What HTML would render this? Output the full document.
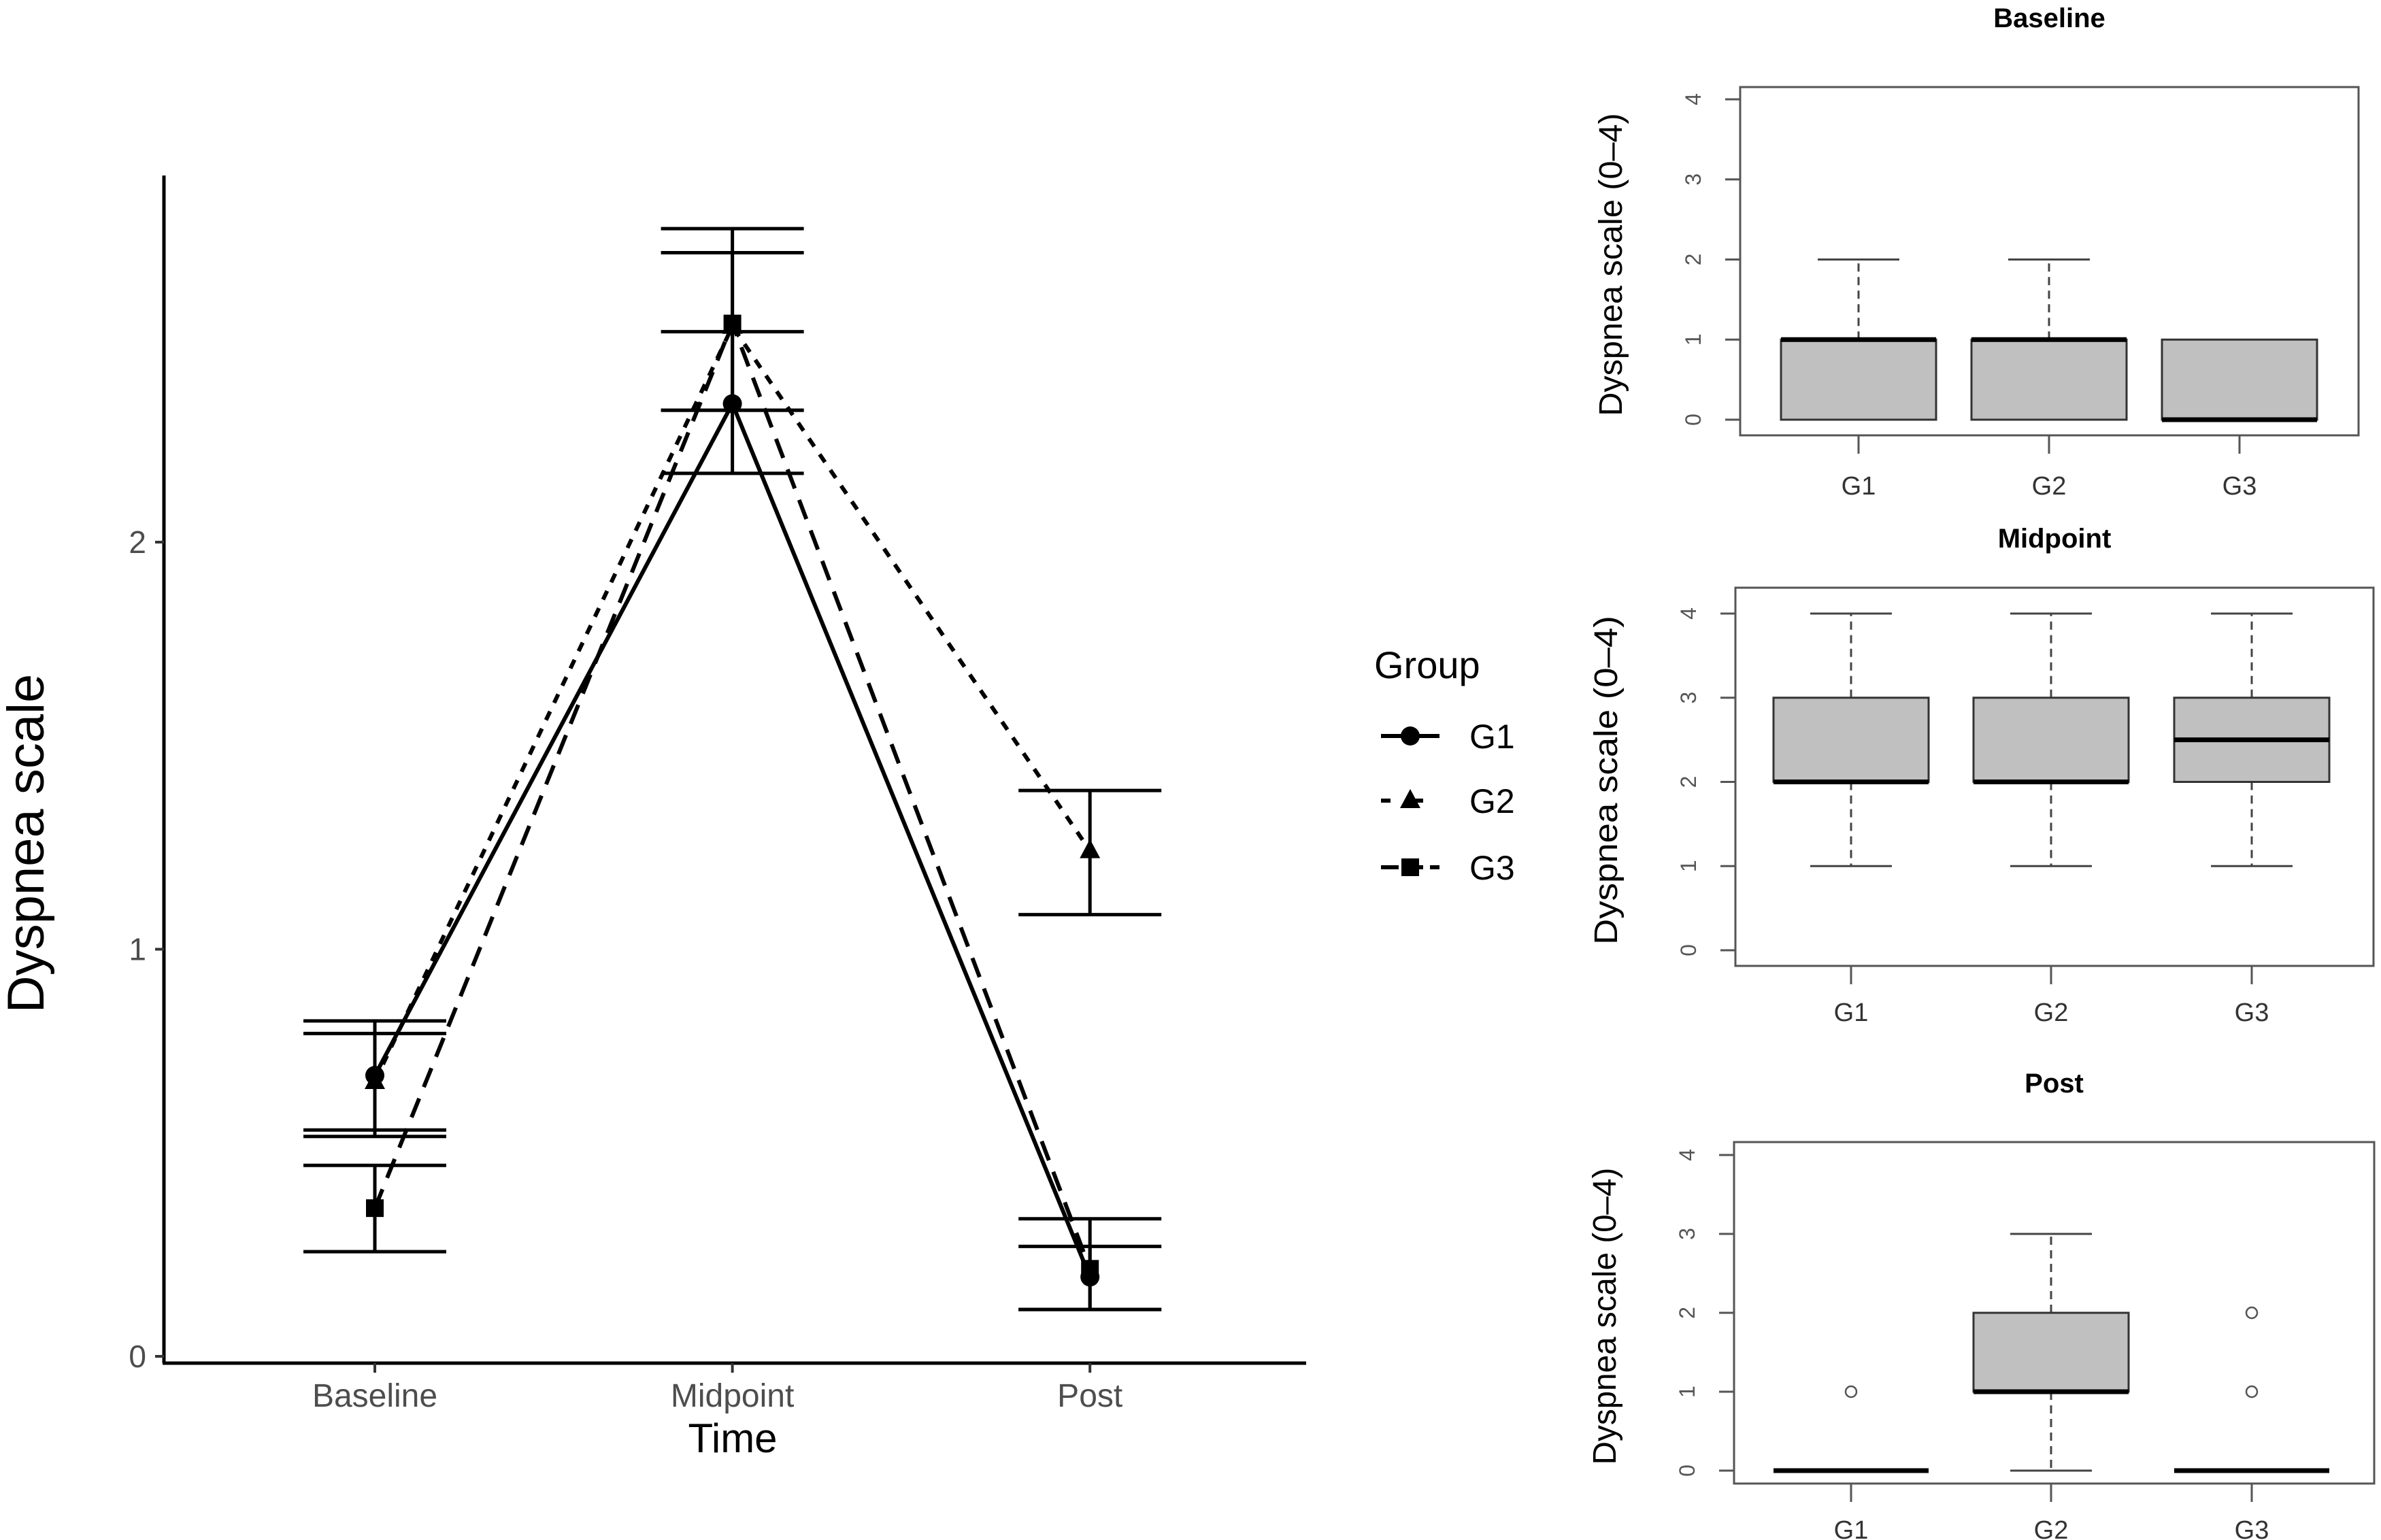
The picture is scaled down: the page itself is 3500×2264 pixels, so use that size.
<!DOCTYPE html>
<html><head><meta charset="utf-8"><style>
html,body{margin:0;padding:0;background:#fff;}
svg{display:block;font-family:"Liberation Sans",Arial,sans-serif;}
</style></head><body>
<svg id="fig" width="3500" height="2264" viewBox="0 0 3500 2264">
<g id="main"></g>
<g id="legend"></g>
<g id="boxes"></g>
</svg>
<script>
const NS="http://www.w3.org/2000/svg";
// ---- line chart data ----
const timeCats=["Baseline","Midpoint","Post"];
const groups=["G1","G2","G3"];
const g1Mean=[0.69,2.34,0.195];
const g1Lo=[0.556,2.169,0.115];
const g1Hi=[0.824,2.517,0.27];
const g2Mean=[0.675,2.53,1.242];
const g2Lo=[0.54,2.324,1.085];
const g2Hi=[0.793,2.77,1.39];
const g3Mean=[0.364,2.537,0.215];
const g3Lo=[0.257,2.324,0.115];
const g3Hi=[0.469,2.711,0.338];
const yTicks=[0,1,2];
// ---- boxplot data (per panel: lo, q1, med, q3, hi) ----
const panelTitles=["Baseline","Midpoint","Post"];
const boxLo=[[0,0,0],[1,1,1],[0,0,0]];
const boxQ1=[[0,0,0],[2,2,2],[0,1,0]];
const boxMed=[[1,1,0],[2,2,2.5],[0,1,0]];
const boxQ3=[[1,1,1],[3,3,3],[0,2,0]];
const boxHi=[[2,2,1],[4,4,4],[0,3,0]];
const outliers=[[[],[],[]],[[],[],[]],[[1],[],[1,2]]];
const boxTicks=[0,1,2,3,4];

function el(tag,attrs,parent){const e=document.createElementNS(NS,tag);for(const k in attrs)e.setAttribute(k,attrs[k]);parent.appendChild(e);return e;}

// ---- main chart ----
const main=document.getElementById('main');
const xPos=i=>551+i*525.6;
const yPos=v=>1994-v*598.5;
let ax=el('line',{x1:241,y1:258,x2:241,y2:2004,stroke:'#000','stroke-width':5},main);


ax=el('line',{x1:239,y1:2004,x2:1920,y2:2004,stroke:'#000','stroke-width':5},main);


yTicks.forEach(t=>{
  const tk=el('line',{x1:228,y1:yPos(t),x2:241,y2:yPos(t),stroke:'#333','stroke-width':4},main);
  
  
  const tl=el('text',{x:215,y:yPos(t)+16,'text-anchor':'end','font-size':46,fill:'#4d4d4d'},main);
  tl.textContent=t;
  
  
});
timeCats.forEach((c,i)=>{
  const tk=el('line',{x1:xPos(i),y1:2004,x2:xPos(i),y2:2018,stroke:'#333','stroke-width':4},main);
  
  
  const tl=el('text',{x:xPos(i),y:2068,'text-anchor':'middle','font-size':48,fill:'#4d4d4d'},main);
  tl.textContent=c;
  
  
});
let t=el('text',{x:1077,y:2135,'text-anchor':'middle','font-size':60,fill:'#000'},main);
t.textContent='Time';


t=el('text',{x:0,y:0,'text-anchor':'middle','font-size':76,fill:'#000',transform:'translate(64,1240) rotate(-90)'},main);
t.textContent='Dyspnea scale';



const means=[g1Mean,g2Mean,g3Mean],los=[g1Lo,g2Lo,g3Lo],his=[g1Hi,g2Hi,g3Hi];
const dashes=['none','14 14','30 18'];
const cap=105;
groups.forEach((g,gi)=>{
  for(let i=0;i<timeCats.length;i++){
    const x=xPos(i);
    const v=el('line',{x1:x,y1:yPos(los[gi][i]),x2:x,y2:yPos(his[gi][i]),stroke:'#000','stroke-width':5},main);
    
    
    [los[gi][i],his[gi][i]].forEach(val=>{
      const c=el('line',{x1:x-cap,y1:yPos(val),x2:x+cap,y2:yPos(val),stroke:'#000','stroke-width':5},main);
      
      
    });
  }
});
function marker(gi,x,y,parent){
  let m;
  if(gi===0)m=el('circle',{cx:x,cy:y,r:14,fill:'#000'},parent);
  else if(gi===1)m=el('polygon',{points:`${x},${y-17} ${x-15},${y+11} ${x+15},${y+11}`,fill:'#000'},parent);
  else m=el('rect',{x:x-13,y:y-13,width:26,height:26,fill:'#000'},parent);
  return m;
}
groups.forEach((g,gi)=>{
  const pts=means[gi].map((v,i)=>xPos(i)+','+yPos(v)).join(' ');
  const pl=el('polyline',{points:pts,fill:'none',stroke:'#000','stroke-width':6,'stroke-dasharray':dashes[gi]},main);
  
  
  means[gi].forEach((v,i)=>{
    const m=marker(gi,xPos(i),yPos(v),main);
    
    
  });
});

// ---- legend ----
const leg=document.getElementById('legend');
t=el('text',{x:2020,y:997,'font-size':56,fill:'#000'},leg);
t.textContent='Group';


const legY=[1082,1177,1275];
groups.forEach((g,gi)=>{
  const k=el('line',{x1:2030,y1:legY[gi],x2:2116,y2:legY[gi],stroke:'#000','stroke-width':6,'stroke-dasharray':gi===0?'none':(gi===1?'14 34':'26 10')},leg);
  
  
  const m=marker(gi,2073,legY[gi],leg);
  
  
  const l=el('text',{x:2160,y:legY[gi]+18,'font-size':50,fill:'#000'},leg);
  l.textContent=g;
  
  
});

// ---- boxplots ----
const boxes=document.getElementById('boxes');
const panels=[
  {left:2558,right:3467,top:128,bottom:640,y0:617,y4:146,gx:[2732,3012,3292],title:27,lab:713},
  {left:2551,right:3489,top:864,bottom:1420,y0:1397,y4:902,gx:[2721,3015,3310],title:792,lab:1487},
  {left:2549,right:3490,top:1679,bottom:2181,y0:2162,y4:1698,gx:[2721,3015,3310],title:1593,lab:2248}
];
panels.forEach((p,pi)=>{
  const gp=el('g',{},boxes);
  
  
  const ys=v=>p.y0-(p.y0-p.y4)*v/4;
  const fr=el('rect',{x:p.left,y:p.top,width:p.right-p.left,height:p.bottom-p.top,fill:'none',stroke:'#555','stroke-width':3},gp);
  
  
  let tt=el('text',{x:(p.left+p.right)/2,y:p.title+13,'text-anchor':'middle','font-size':40,'font-weight':'bold',fill:'#000'},gp);
  tt.textContent=panelTitles[pi];
  
  
  boxTicks.forEach(v=>{
    const tk=el('line',{x1:p.left-22,y1:ys(v),x2:p.left,y2:ys(v),stroke:'#555','stroke-width':3},gp);
    
    
    const tl=el('text',{x:0,y:0,'text-anchor':'middle','font-size':32,fill:'#555',transform:`translate(${p.left-58},${ys(v)}) rotate(-90)`},gp);
    tl.textContent=v;
    
    
  });
  tt=el('text',{x:0,y:0,'text-anchor':'middle','font-size':48,fill:'#000',textLength:(p.bottom-p.top)*0.87,lengthAdjust:'spacingAndGlyphs',transform:`translate(${p.left-174},${(p.top+p.bottom)/2+5}) rotate(-90)`},gp);
  tt.textContent='Dyspnea scale (0–4)';
  
  
  groups.forEach((g,gi)=>{
    const x=p.gx[gi],hw=114,cw=60;
    const xt=el('line',{x1:x,y1:p.bottom,x2:x,y2:p.bottom+27,stroke:'#555','stroke-width':3},gp);
    
    
    const xl=el('text',{x:x,y:p.lab+14,'text-anchor':'middle','font-size':38,fill:'#333'},gp);
    xl.textContent=g;
    
    
    const lo=boxLo[pi][gi],q1=boxQ1[pi][gi],md=boxMed[pi][gi],q3=boxQ3[pi][gi],hi=boxHi[pi][gi];
    if(hi>q3){
      const w=el('line',{x1:x,y1:ys(q3),x2:x,y2:ys(hi),stroke:'#444','stroke-width':3,'stroke-dasharray':'12 8'},gp);
      
      
      const c=el('line',{x1:x-cw,y1:ys(hi),x2:x+cw,y2:ys(hi),stroke:'#444','stroke-width':3},gp);
      
      
    }
    if(lo<q1){
      const w=el('line',{x1:x,y1:ys(q1),x2:x,y2:ys(lo),stroke:'#444','stroke-width':3,'stroke-dasharray':'12 8'},gp);
      
      
      const c=el('line',{x1:x-cw,y1:ys(lo),x2:x+cw,y2:ys(lo),stroke:'#444','stroke-width':3},gp);
      
      
    }
    if(q3>q1){
      const b=el('rect',{x:x-hw,y:ys(q3),width:hw*2,height:ys(q1)-ys(q3),fill:'#c0c0c0',stroke:'#333','stroke-width':3},gp);
      
      
    }
    const m=el('line',{x1:x-hw,y1:ys(md),x2:x+hw,y2:ys(md),stroke:'#000','stroke-width':7},gp);
    
    
    outliers[pi][gi].forEach(o=>{
      const c=el('circle',{cx:x,cy:ys(o),r:8,fill:'none',stroke:'#555','stroke-width':2.5},gp);
      
      
    });
  });
});
</script>
</body></html>
